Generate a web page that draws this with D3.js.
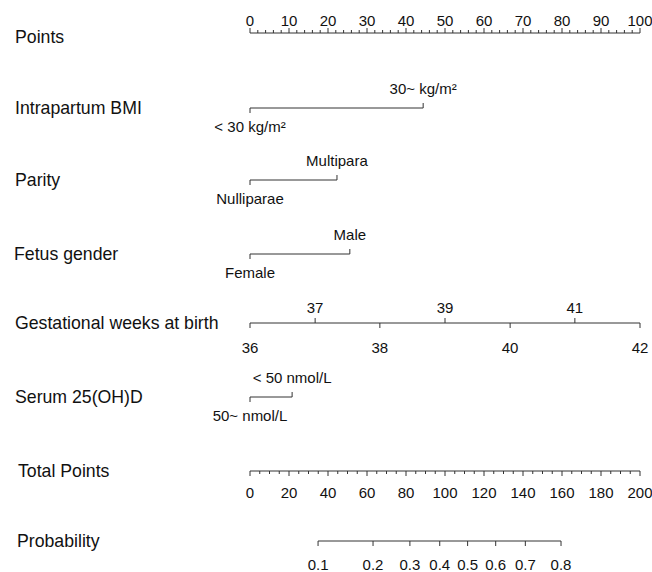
<!DOCTYPE html>
<html lang="en">
<head>
  <meta charset="UTF-8">
  <title>Nomogram</title>
  <script src="https://d3js.org/d3.v7.min.js"></script>
  <style>
    body { margin: 0; background: #fff; }
    svg text { font-family: "Liberation Sans", Arial, sans-serif; fill: #111; }
    .row-label { font-size: 17.7px; }
    .tick-label { font-size: 15px; }
  </style>
</head>
<body>
  <svg width="652" height="572"></svg>

  <script>
    // Row names, top to bottom
    const rowNames = ["Points", "Intrapartum BMI", "Parity", "Fetus gender",
                      "Gestational weeks at birth", "Serum 25(OH)D", "Total Points", "Probability"];

    // Points scale tick labels
    const pointTicks = [0, 10, 20, 30, 40, 50, 60, 70, 80, 90, 100];

    // Categorical predictors: levels and points
    const bmiLevels = ["< 30 kg/m²", "30~ kg/m²"];
    const bmiPoints = [0, 44.4];
    const parityLevels = ["Nulliparae", "Multipara"];
    const parityPoints = [0, 22.3];
    const genderLevels = ["Female", "Male"];
    const genderPoints = [0, 25.6];
    const serumLevels = ["50~ nmol/L", "< 50 nmol/L"];
    const serumPoints = [0, 10.8];

    // Gestational weeks and their points
    const gestWeeks = [36, 37, 38, 39, 40, 41, 42];
    const gestPoints = [0, 16.7, 33.3, 50, 66.7, 83.3, 100];

    // Total points tick labels
    const totalTicks = [0, 20, 40, 60, 80, 100, 120, 140, 160, 180, 200];

    // Probability ticks and the total points they sit at
    const probTicks = [0.1, 0.2, 0.3, 0.4, 0.5, 0.6, 0.7, 0.8];
    const probTotals = [34.9, 63.1, 82.0, 97.3, 111.6, 126.0, 141.2, 159.5];

    const svg = d3.select("svg");
    const ink = "#333";

    const x = d3.scaleLinear().domain([0, 100]).range([250, 640]);
    const xTotal = d3.scaleLinear().domain([0, 200]).range([250, 640]);

    // y position of each row's axis line
    const rowY = [33, 108, 180, 254, 323, 397, 471, 541];
    const labelX = [15, 15, 15, 14, 15, 15, 18, 17];

    svg.selectAll("text.row-label")
      .data(rowNames)
      .enter().append("text")
      .attr("class", "row-label")
      .attr("x", (d, i) => labelX[i])
      .attr("y", (d, i) => rowY[i] + (i === 0 ? 4 : 0))
      .attr("dy", "0.35em")
      .text(d => d);

    function hline(g, x1, x2, y) {
      g.append("line")
        .attr("x1", x1).attr("x2", x2).attr("y1", y).attr("y2", y)
        .attr("stroke", ink).attr("stroke-width", 1);
    }
    function tick(g, xx, y, len) {
      g.append("line")
        .attr("x1", xx).attr("x2", xx).attr("y1", y).attr("y2", y + len)
        .attr("stroke", ink).attr("stroke-width", 1);
    }
    function label(g, xx, y, txt) {
      g.append("text")
        .attr("class", "tick-label")
        .attr("x", xx).attr("y", y)
        .attr("dy", "0.35em")
        .attr("text-anchor", "middle")
        .text(txt);
    }

    // Points axis (ticks up, labels above)
    const gPts = svg.append("g");
    hline(gPts, x(0), x(100), rowY[0]);
    x.ticks(50).forEach(v => tick(gPts, x(v), rowY[0], pointTicks.includes(v) ? -5 : -3));
    pointTicks.forEach(v => label(gPts, x(v), rowY[0] - 12, v));

    // Two-level categorical rows: first level below, second above
    function catRow(levels, pts, y) {
      const g = svg.append("g");
      hline(g, x(pts[0]), x(pts[1]), y);
      tick(g, x(pts[0]), y, 5);
      tick(g, x(pts[1]), y, -5);
      label(g, x(pts[0]), y + 19, levels[0]);
      label(g, x(pts[1]), y - 19, levels[1]);
    }
    catRow(bmiLevels, bmiPoints, rowY[1]);
    catRow(parityLevels, parityPoints, rowY[2]);
    catRow(genderLevels, genderPoints, rowY[3]);

    // Gestational weeks: even weeks below, odd above
    const gGest = svg.append("g");
    hline(gGest, x(gestPoints[0]), x(gestPoints[gestPoints.length - 1]), rowY[4]);
    gestWeeks.forEach((w, i) => {
      const below = w % 2 === 0;
      tick(gGest, x(gestPoints[i]), rowY[4], below ? 5 : -5);
      label(gGest, x(gestPoints[i]), rowY[4] + (below ? 25 : -15), w);
    });

    catRow(serumLevels, serumPoints, rowY[5]);

    // Total points axis (ticks down, labels below)
    const gTot = svg.append("g");
    hline(gTot, xTotal(0), xTotal(200), rowY[6]);
    xTotal.ticks(50).forEach(v => tick(gTot, xTotal(v), rowY[6], totalTicks.includes(v) ? 5 : 3));
    totalTicks.forEach(v => label(gTot, xTotal(v), rowY[6] + 22, v));

    // Probability axis
    const gProb = svg.append("g");
    hline(gProb, xTotal(probTotals[0]), xTotal(probTotals[probTotals.length - 1]), rowY[7]);
    probTicks.forEach((p, i) => {
      tick(gProb, xTotal(probTotals[i]), rowY[7], 5);
      label(gProb, xTotal(probTotals[i]), rowY[7] + 24, p);
    });
  </script>
</body>
</html>
